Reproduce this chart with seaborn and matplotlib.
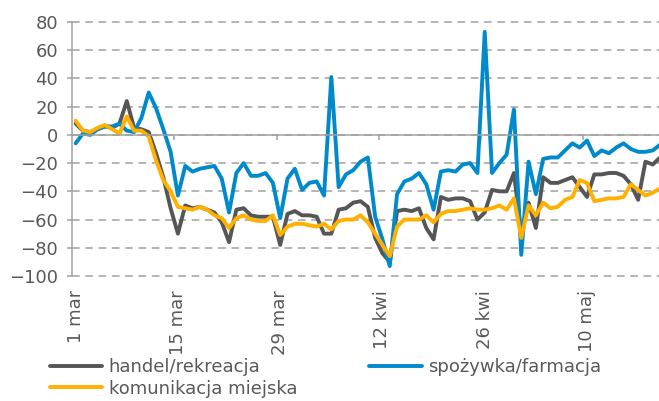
import numpy as np
import pandas as pd
import matplotlib
matplotlib.use("Agg")
import matplotlib.pyplot as plt
import seaborn as sns
from matplotlib.lines import Line2D

# ---- data (daily, from 1 March) ----
handel = [8, 3, 2, 4, 6, 5, 8, 24, 5, 4, 2, -13, -30, -52, -70, -50, -52, -51, -53, -55,
          -62, -76, -53, -52, -57, -58, -58, -58, -78, -56, -54, -57, -57, -58, -70, -70,
          -53, -52, -48, -47, -51, -73, -84, -90, -54, -53, -54, -52, -66, -74, -44, -46,
          -45, -45, -47, -60, -55, -39, -40, -40, -27, -70, -48, -66, -30, -34, -34, -32,
          -30, -37, -44, -28, -28, -27, -27, -29, -35, -46, -19, -21, -16]
spozywka = [-6, 1, 0, 4, 6, 6, 8, 3, 2, 12, 30, 19, 4, -12, -43, -22, -26, -24, -23, -22,
            -31, -55, -27, -20, -29, -29, -27, -34, -59, -31, -24, -39, -34, -33, -43, 41,
            -37, -28, -25, -19, -16, -58, -74, -93, -42, -33, -31, -27, -35, -53, -26, -25,
            -26, -21, -20, -27, 73, -27, -20, -14, 18, -85, -19, -42, -17, -16, -16, -11,
            -6, -9, -4, -15, -11, -13, -9, -6, -10, -12, -12, -11, -7]
komunikacja = [10, 3, 2, 5, 7, 4, 1, 13, 3, 3, -1, -18, -32, -40, -51, -52, -53, -51, -53, -57,
               -59, -66, -59, -57, -60, -61, -61, -57, -71, -65, -63, -63, -64, -65, -63, -67,
               -61, -60, -60, -57, -62, -70, -78, -86, -65, -60, -60, -60, -57, -62, -56, -54,
               -54, -53, -52, -53, -53, -52, -50, -53, -45, -73, -50, -57, -48, -52, -51, -46,
               -44, -32, -34, -47, -46, -45, -45, -44, -35, -39, -43, -41, -38]
series_names = ["handel/rekreacja", "spożywka/farmacja", "komunikacja miejska"]
tick_labels = ["1 mar", "15 mar", "29 mar", "12 kwi", "26 kwi", "10 maj"]
tick_days = [0, 14, 28, 42, 56, 70]

colors = ["#565656", "#0089CB", "#FFB000"]
grid_gray = "#A0A0A0"
text_gray = "#595959"

plt.rcParams["font.family"] = ["DejaVu Sans"]

n = len(handel)
days = list(range(n))
df = pd.DataFrame({
    "day": days * 3,
    "value": handel + spozywka + komunikacja,
    "series": [series_names[0]] * n + [series_names[1]] * n + [series_names[2]] * n,
})

W, H = 659, 401
fig = plt.figure(figsize=(W / 100, H / 100), dpi=100)
ax = fig.add_axes([72 / W, 1 - 276 / H, 587 / W, 254 / H])

sns.lineplot(data=df, x="day", y="value", hue="series", hue_order=series_names,
             palette=colors, linewidth=2.8, legend=False, estimator=None, ax=ax)
for ln in ax.lines:
    ln.set_solid_capstyle("round")
    ln.set_solid_joinstyle("round")

day_px = 7.305
ax.set_xlim(-0.5, -0.5 + 587 / day_px)
ax.set_ylim(-100, 80)
ax.set_yticks(np.arange(-100, 81, 20))
ax.set_xticks([13.5, 27.5, 41.5, 55.5, 69.5])
ax.set_xticklabels([])
ax.set_xlabel("")
ax.set_ylabel("")

ax.spines["bottom"].set_position(("data", 0))
ax.spines["top"].set_visible(False)
ax.spines["right"].set_visible(False)
for s in ["left", "bottom"]:
    ax.spines[s].set_color(grid_gray)
    ax.spines[s].set_linewidth(1.1)

ax.tick_params(axis="x", direction="out", length=3.6, width=1.1, color=grid_gray)
ax.tick_params(axis="y", direction="out", length=3.6, width=1.1, color=grid_gray,
               labelsize=13, labelcolor=text_gray, pad=6.5)

ax.yaxis.grid(True, color=grid_gray, linewidth=1.1, linestyle=(0, (5, 3.7)))
ax.set_axisbelow(True)
for gl in ax.get_ygridlines():
    gl.set_clip_on(False)

for d, lab in zip(tick_days, tick_labels):
    ax.text(d, -14 / 254, lab, transform=ax.get_xaxis_transform(), rotation=90,
            ha="center", va="top", fontsize=13, color=text_gray)

order = [0, 2, 1]
handles = [Line2D([], [], color=colors[i], lw=2.8, solid_capstyle="round") for i in order]
labels = [series_names[i] for i in order]
fig.legend(handles, labels, loc="upper left", bbox_to_anchor=(50 / W, 1 - 358 / H),
           ncol=2, frameon=False, fontsize=13, handlelength=2.9, handletextpad=0.35,
           columnspacing=4.0, labelspacing=0.2, borderpad=0, borderaxespad=0,
           labelcolor=text_gray)

fig.savefig("out.png", dpi=100)
